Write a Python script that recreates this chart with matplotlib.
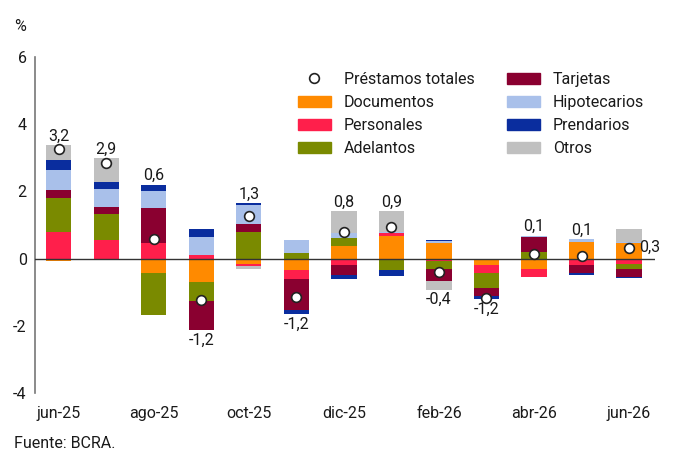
import numpy as np
import matplotlib
matplotlib.use("Agg")
import matplotlib.pyplot as plt
from matplotlib.patches import Patch
from matplotlib.lines import Line2D

plt.rcParams['font.family'] = ['Roboto', 'DejaVu Sans']

months = ["jun-25", "jul-25", "ago-25", "sep-25", "oct-25", "nov-25", "dic-25",
          "ene-26", "feb-26", "mar-26", "abr-26", "may-26", "jun-26"]

# contribuciones por linea de credito (p.p.)
documentos   = [-0.06, -0.05, -0.42, -0.70, -0.15, -0.35, 0.37, 0.68, 0.45, -0.18, -0.30, 0.48, 0.45]
personales   = [0.80, 0.55, 0.46, 0.12, -0.08, -0.25, -0.20, 0.09, -0.08, -0.25, -0.25, -0.20, -0.15]
adelantos    = [1.00, 0.78, -1.27, -0.57, 0.80, 0.17, 0.23, -0.35, -0.24, -0.44, 0.20, 0.00, -0.15]
tarjetas     = [0.25, 0.20, 1.04, -0.85, 0.22, -0.93, -0.28, 0.00, -0.35, -0.23, 0.45, -0.23, -0.25]
hipotecarios = [0.58, 0.55, 0.52, 0.51, 0.58, 0.38, 0.15, 0.03, 0.08, 0.00, 0.03, 0.10, 0.05]
prendarios   = [0.30, 0.20, 0.18, 0.25, 0.05, -0.12, -0.14, -0.18, 0.03, -0.10, 0.00, -0.07, -0.03]
otros        = [0.44, 0.70, 0.00, 0.00, -0.07, 0.00, 0.65, 0.62, -0.25, 0.00, 0.00, 0.00, 0.38]

totales = [3.25, 2.85, 0.58, -1.22, 1.27, -1.15, 0.78, 0.93, -0.40, -1.18, 0.13, 0.08, 0.32]
etiquetas = ["3,2", "2,9", "0,6", "-1,2", "1,3", "-1,2", "0,8", "0,9", "-0,4", "-1,2", "0,1", "0,1", "0,3"]

series = [
    ("Documentos", documentos, "#FF8A00"),
    ("Personales", personales, "#FF1F4B"),
    ("Adelantos", adelantos, "#7A8A00"),
    ("Tarjetas", tarjetas, "#8A0030"),
    ("Hipotecarios", hipotecarios, "#A9C0EA"),
    ("Prendarios", prendarios, "#0A2D9E"),
    ("Otros", otros, "#C0C0C0"),
]

txt = "#1a1a1a"
fs = 11.5
fig = plt.figure(figsize=(7, 4.72), dpi=100)
ax = fig.add_axes([0.05, 0.167, 0.886, 0.713])

x = np.arange(len(months))
w = 0.53
pos_base = np.zeros(len(months))
neg_base = np.zeros(len(months))
for name, vals, col in series:
    v = np.array(vals)
    pos = np.where(v > 0, v, 0)
    neg = np.where(v < 0, v, 0)
    ax.bar(x, pos, w, bottom=pos_base, color=col, linewidth=0)
    ax.bar(x, neg, w, bottom=neg_base, color=col, linewidth=0)
    pos_base += pos
    neg_base += neg

ax.axhline(0, color="#333333", linewidth=1.0, zorder=3)
ax.plot(x, totales, "o", markersize=7, markerfacecolor="white",
        markeredgecolor="#222222", markeredgewidth=1.2, linestyle="none", zorder=4)

for i, (t, lab) in enumerate(zip(totales, etiquetas)):
    if i == len(months) - 1:
        ax.annotate(lab, (x[i], t), xytext=(7, 0), textcoords="offset points",
                    ha="left", va="center", fontsize=fs, color=txt)
    elif t >= 0:
        ax.annotate(lab, (x[i], pos_base[i]), xytext=(0, 1), textcoords="offset points",
                    ha="center", va="bottom", fontsize=fs, color=txt)
    else:
        ax.annotate(lab, (x[i], neg_base[i]), xytext=(0, -2), textcoords="offset points",
                    ha="center", va="top", fontsize=fs, color=txt)

ax.set_xlim(-0.5, 12.55)
ax.set_ylim(-4, 6)
ax.set_yticks([-4, -2, 0, 2, 4, 6])
ax.set_yticklabels(["-4", "-2", "0", "2", "4", "6"])
ax.set_xticks(x[::2])
ax.set_xticklabels(months[::2])
ax.tick_params(axis="both", length=0, labelsize=fs, colors=txt)
ax.tick_params(axis="y", pad=6)
ax.tick_params(axis="x", pad=9)
for s in ["top", "right", "bottom"]:
    ax.spines[s].set_visible(False)
ax.spines["left"].set_color("#777777")
ax.spines["left"].set_linewidth(1.2)

handles = [Line2D([], [], marker="o", linestyle="none", markersize=7,
                  markerfacecolor="white", markeredgecolor="#222222", markeredgewidth=1.2)]
handles += [Patch(color=c) for _, _, c in series]
labels = ["Préstamos totales"] + [n for n, _, _ in series]
fig.legend(handles, labels, ncol=2, loc="upper left", bbox_to_anchor=(0.405, 0.878),
           frameon=False, fontsize=fs, handlelength=2.07, handletextpad=0.82,
           columnspacing=2.0, labelspacing=0.5, labelcolor=txt)

fig.text(0.02, 0.943, "%", fontsize=fs, color=txt, va="center")
fig.text(0.02, 0.061, "Fuente: BCRA.", fontsize=fs, color=txt, va="center")

fig.savefig("out.png", dpi=100)
